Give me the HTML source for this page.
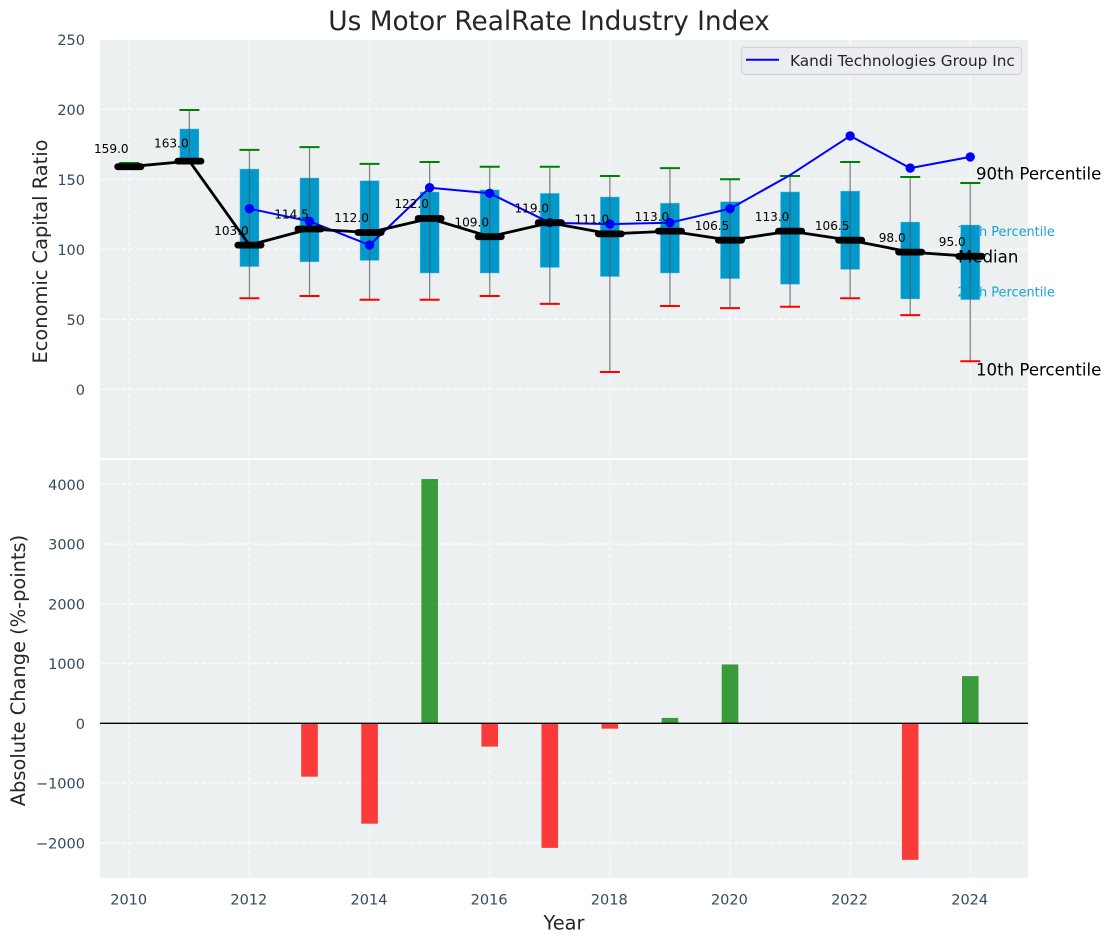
<!DOCTYPE html>
<html lang="en">
<head>
<meta charset="utf-8">
<title>Us Motor RealRate Industry Index</title>
<style>
html,body{margin:0;padding:0;background:#fff;width:1111px;height:942px;overflow:hidden}
svg{display:block}
text{font-family:"DejaVu Sans","Liberation Sans",sans-serif}
</style>
</head>
<body>
<svg id="chart" xmlns="http://www.w3.org/2000/svg" width="1111" height="942" viewBox="0 0 1111 942">
  <defs>
    <clipPath id="clip-top"><rect x="100" y="40" width="928" height="418.3"/></clipPath>
    <clipPath id="clip-bottom"><rect x="100" y="460" width="928" height="417.7"/></clipPath>
  </defs>
  <rect x="100" y="40" width="928" height="418.3" fill="#ecf0f1"/>
  <rect x="100" y="460" width="928" height="417.7" fill="#ecf0f1"/>
  <g id="grid-top" clip-path="url(#clip-top)"></g>
  <g id="grid-bottom" clip-path="url(#clip-bottom)"></g>
  <g id="percentile-labels">
    <text x="957.5" y="236.2" font-size="12.9" fill="#0099cc" fill-opacity="0.9">75th Percentile</text>
    <text x="957.5" y="296.3" font-size="12.9" fill="#0099cc" fill-opacity="0.9">25th Percentile</text>
  </g>
  <g id="boxes"></g>
  <g id="whiskers"></g>
  <g id="company"></g>
  <g id="medians"></g>
  <g id="value-labels"></g>
  <g>
    <text x="958" y="262.5" font-size="16.6" fill="#000">Median</text>
    <text x="976" y="179.4" font-size="16.6" fill="#000">90th Percentile</text>
    <text x="976" y="375.4" font-size="16.6" fill="#000">10th Percentile</text>
  </g>
  <g id="bars" clip-path="url(#clip-bottom)"></g>
  <g id="ticks"></g>

  <line id="zero-line" x1="100" x2="1028" stroke="#000" stroke-width="1.3"/>

  <g>
    <rect x="741.5" y="47.5" width="280" height="27" rx="3" fill="#ebedf2" stroke="#d2d3d8" stroke-width="1.2"/>
    <line x1="746" x2="779" y1="59.8" y2="59.8" stroke="#0000ff" stroke-width="2"/>
    <text x="790" y="66.2" font-size="15.3" fill="#262626">Kandi Technologies Group Inc</text>
  </g>

  <text x="549" y="30" font-size="26.4" text-anchor="middle" fill="#262626">Us Motor RealRate Industry Index</text>
  <text transform="translate(47,251.5) rotate(-90)" font-size="19.4" text-anchor="middle" fill="#262626">Economic Capital Ratio</text>
  <text transform="translate(25,670.5) rotate(-90)" font-size="19.4" text-anchor="middle" fill="#262626">Absolute Change (%-points)</text>
  <text x="564" y="929.5" font-size="19.4" text-anchor="middle" fill="#262626">Year</text>
</svg>
<script>
const years = [2010,2011,2012,2013,2014,2015,2016,2017,2018,2019,2020,2021,2022,2023,2024];
const p90 = [161.6,199.5,171,173,161,162.4,159,159,152.4,158,150,152.4,162.4,151.6,147.4];
const p75 = [160,186,157.4,151,149,141,142.5,140,137.4,133,134,141,141.6,119.5,117.4];
const medianValues = [159,163,103,114.5,112,122,109,119,111,113,106.5,113,106.5,98,95];
const p25 = [158,163,87.6,91,92,83,83,87,80.5,83,79,75,85.6,64.5,64];
const p10 = [158,163,65,66.6,64,64,66.6,61,12.4,59.5,58,59,65,53,20];
const companyValues = [null,null,129,120,103,144,140,119,118,119,129,153,181,158,166];
const companyUnmarkedYears = [2021];
const changeValues = [0,0,0,-893,-1680,4088,-390,-2085,-90,90,985,0,0,-2285,790];
const xTickLabels = [2010,2012,2014,2016,2018,2020,2022,2024];
const topYTicks = [0,50,100,150,200,250];
const bottomYTicks = [-2000,-1000,0,1000,2000,3000,4000];

const xScale = function (year) { return 129.3 + (year - 2010) * 60.07; };
const yTop = function (v) { return 389.3 - 1.4 * v; };
const yBottom = function (v) { return 723.3 - 0.05975 * v; };

const NS = 'http://www.w3.org/2000/svg';
function make(tag, parentId, attrs) {
  const node = document.createElementNS(NS, tag);
  for (const key in attrs) node.setAttribute(key, attrs[key]);
  document.getElementById(parentId).appendChild(node);
  return node;
}

const gridStyle = { stroke: '#ffffff', 'stroke-width': 1.3, 'stroke-dasharray': '5 2.2', 'stroke-opacity': 0.72 };
const tickColor = '#34495e';

xTickLabels.forEach(function (year) {
  const x = xScale(year);
  const topLine = make('line', 'grid-top', Object.assign({ x1: x, x2: x, y1: 40, y2: 458.3 }, gridStyle));
  
  
  const bottomLine = make('line', 'grid-bottom', Object.assign({ x1: x, x2: x, y1: 460, y2: 877.7 }, gridStyle));
  
  
  const label = make('text', 'ticks', { x: x - 0.6, y: 904.6, 'font-size': 14.5, 'text-anchor': 'middle', fill: tickColor });
  label.textContent = year;
  
  
});

topYTicks.forEach(function (v) {
  const y = yTop(v);
  const line = make('line', 'grid-top', Object.assign({ x1: 100, x2: 1028, y1: y, y2: y }, gridStyle));
  
  
  const label = make('text', 'ticks', { x: 85, y: y + 5.6, 'font-size': 14.5, 'text-anchor': 'end', fill: tickColor });
  label.textContent = v;
  
  
});

bottomYTicks.forEach(function (v) {
  const y = yBottom(v);
  const line = make('line', 'grid-bottom', Object.assign({ x1: 100, x2: 1028, y1: y, y2: y }, gridStyle));
  
  
  const label = make('text', 'ticks', { x: 85, y: y + 5.6, 'font-size': 14.5, 'text-anchor': 'end', fill: tickColor });
  label.textContent = String(v).replace('-', '\u2212');
  
  
});

const zero = document.getElementById('zero-line');
zero.setAttribute('y1', yBottom(0));
zero.setAttribute('y2', yBottom(0));

years.forEach(function (year, i) {
  const x = xScale(year);
  const box = make('rect', 'boxes', { x: x - 9.6, width: 19.2, y: yTop(p75[i]), height: yTop(p25[i]) - yTop(p75[i]), fill: '#0099cc', stroke: '#8fd0e6', 'stroke-opacity': 0.5, 'stroke-width': 0.8 });
  
  

  const whisker = make('line', 'whiskers', { x1: x, x2: x, y1: yTop(p90[i]), y2: yTop(p10[i]), stroke: '#555', 'stroke-opacity': 0.7, 'stroke-width': 1.3 });
  
  

  const capHigh = make('line', 'whiskers', { x1: x - 10, x2: x + 10, y1: yTop(p90[i]), y2: yTop(p90[i]), stroke: '#008000', 'stroke-width': 2 });
  
  

  const capLow = make('line', 'whiskers', { x1: x - 10, x2: x + 10, y1: yTop(p10[i]), y2: yTop(p10[i]), stroke: '#ff0000', 'stroke-width': 2 });
  
  
});

const companyPoints = [];
years.forEach(function (year, i) {
  if (companyValues[i] !== null) companyPoints.push(xScale(year) + ',' + yTop(companyValues[i]));
});
const companyLine = make('polyline', 'company', { points: companyPoints.join(' '), fill: 'none', stroke: '#0000ff', 'stroke-width': 2, 'stroke-linejoin': 'round' });



years.forEach(function (year, i) {
  if (companyValues[i] === null || companyUnmarkedYears.indexOf(year) !== -1) return;
  const dot = make('circle', 'company', { cx: xScale(year), cy: yTop(companyValues[i]), r: 4.7, fill: '#0000ff' });
  
  
});

const medianLine = make('polyline', 'medians', { points: years.map(function (year, i) { return xScale(year) + ',' + yTop(medianValues[i]); }).join(' '), fill: 'none', stroke: '#000', 'stroke-width': 2.8, 'stroke-linejoin': 'round' });



years.forEach(function (year, i) {
  const x = xScale(year);
  const y = yTop(medianValues[i]);
  const bar = make('line', 'medians', { x1: x - 11.6, x2: x + 11.6, y1: y, y2: y, stroke: '#000', 'stroke-width': 6.8, 'stroke-linecap': 'round' });
  
  

  const lift = i < 2 ? 13.6 : 10.3;
  const label = make('text', 'value-labels', { x: x - 18, y: y - lift, 'font-size': 12.1, 'text-anchor': 'middle', fill: '#000' });
  label.textContent = medianValues[i].toFixed(1);
  
  
});

years.forEach(function (year, i) {
  const v = changeValues[i];
  if (v === 0) return;
  const top = Math.min(yBottom(v), yBottom(0));
  const bar = make('rect', 'bars', { x: xScale(year) - 8.3, width: 16.6, y: top, height: Math.abs(yBottom(v) - yBottom(0)), fill: v > 0 ? '#008000' : '#ff0000', 'fill-opacity': 0.76 });
  
  
});
</script>
</body>
</html>
